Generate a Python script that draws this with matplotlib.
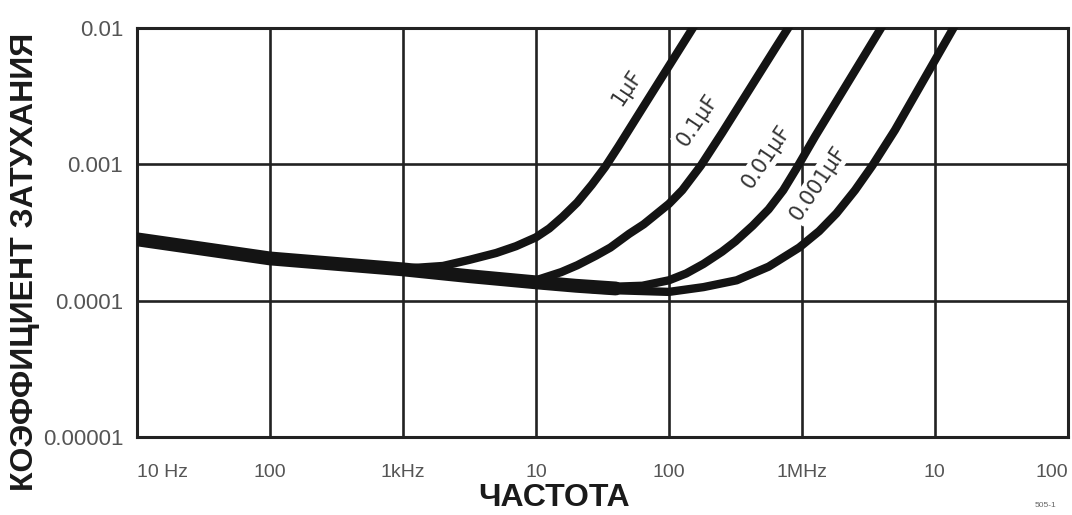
import matplotlib
matplotlib.use("Agg")
import matplotlib.pyplot as plt
import numpy as np

plt.rcParams['font.family'] = ['Liberation Sans', 'DejaVu Sans']

# values as log10(frequency in Hz) and log10(dissipation factor)
base_lf = [1.0, 1.5, 2.0, 2.5, 3.0, 3.5, 4.0, 4.3, 4.6]
base_ld = [-3.55, -3.62, -3.69, -3.73, -3.77, -3.82, -3.865, -3.89, -3.91]

lf_1uF = [1.0, 1.5, 2.0, 2.5, 3.0, 3.3, 3.5, 3.7, 3.85, 4.0, 4.1, 4.2, 4.31, 4.42, 4.52, 4.62, 4.8, 5.0, 5.2, 5.3]
ld_1uF = [-3.55, -3.62, -3.69, -3.73, -3.765, -3.745, -3.70, -3.65, -3.60, -3.535, -3.47, -3.385, -3.28, -3.15, -3.02, -2.87, -2.59, -2.28, -1.97, -1.81]

lf_01uF = [1.0, 2.0, 3.0, 3.5, 4.0, 4.19, 4.31, 4.45, 4.56, 4.7, 4.81, 5.0, 5.1, 5.24, 5.4, 5.6, 5.8, 5.95]
ld_01uF = [-3.55, -3.69, -3.77, -3.82, -3.85, -3.79, -3.74, -3.67, -3.61, -3.51, -3.44, -3.29, -3.19, -3.01, -2.77, -2.46, -2.15, -1.92]

lf_001uF = [1.0, 2.0, 3.0, 4.0, 4.5, 4.8, 5.0, 5.13, 5.26, 5.4, 5.5, 5.63, 5.75, 5.86, 5.96, 6.1, 6.3, 6.5, 6.6, 6.7]
ld_001uF = [-3.55, -3.69, -3.77, -3.87, -3.90, -3.89, -3.85, -3.80, -3.73, -3.64, -3.565, -3.45, -3.33, -3.19, -3.03, -2.795, -2.475, -2.155, -1.995, -1.835]

lf_0001uF = [1.0, 2.0, 3.0, 4.0, 4.5, 5.0, 5.26, 5.51, 5.75, 5.98, 6.13, 6.26, 6.4, 6.53, 6.7, 6.9, 7.1, 7.2]
ld_0001uF = [-3.55, -3.69, -3.77, -3.88, -3.92, -3.935, -3.90, -3.85, -3.75, -3.61, -3.49, -3.36, -3.19, -3.01, -2.75, -2.41, -2.07, -1.90]

cap_labels = ['1μF', '0.1μF', '0.01μF', '0.001μF']
curves_lf = [lf_1uF, lf_01uF, lf_001uF, lf_0001uF]
curves_ld = [ld_1uF, ld_01uF, ld_001uF, ld_0001uF]
lab_lf = [4.685, 5.215, 5.734, 6.123]
lab_ld = [-2.44, -2.675, -2.946, -3.137]

x_ticks = [10, 100, 1e3, 1e4, 1e5, 1e6, 1e7, 1e8]
x_ticklabels = ['10 Hz', '100', '1kHz', '10', '100', '1MHz', '10', '100']
y_ticks = [1e-5, 1e-4, 1e-3, 1e-2]
y_ticklabels = ['0.00001', '0.0001', '0.001', '0.01']

fig = plt.figure(figsize=(10.72, 5.15), dpi=100)
ax = fig.add_axes([0.128, 0.151, 0.868, 0.795])
ax.set_xscale('log')
ax.set_yscale('log')
ax.set_xlim(10, 1e8)
ax.set_ylim(1e-5, 1e-2)

ax.grid(True, which='major', color='#222222', lw=1.9)
ax.minorticks_off()
for s in ax.spines.values():
    s.set_linewidth(2.2)
    s.set_color('#222222')

ink = '#141414'
ax.plot(np.power(10.0, base_lf), np.power(10.0, base_ld), color=ink, lw=10,
        solid_capstyle='round', zorder=4)
for lf, ld in zip(curves_lf, curves_ld):
    ax.plot(np.power(10.0, lf), np.power(10.0, ld), color=ink, lw=6,
            solid_capstyle='round', solid_joinstyle='round', zorder=4)

for t, lf, ld in zip(cap_labels, lab_lf, lab_ld):
    ax.text(10 ** lf, 10 ** ld, t, rotation=56, ha='center', va='center',
            fontsize=15, color='#333333', family='DejaVu Sans', zorder=3,
            bbox=dict(facecolor='white', edgecolor='none', pad=1.5))

ax.set_xticks(x_ticks)
ax.set_xticklabels(x_ticklabels, fontsize=14, color='#555555')
ax.set_yticks(y_ticks)
ax.set_yticklabels(y_ticklabels, fontsize=16, color='#555555')
ax.tick_params(axis='x', length=0, pad=19)
ax.tick_params(axis='y', length=0, pad=10)
xl = ax.get_xticklabels()
xl[0].set_ha('left')
xl[-1].set_ha('right')

fig.text(0.517, 0.004, 'ЧАСТОТА', fontsize=23, fontweight='bold',
         ha='center', va='bottom', color='#1a1a1a')
fig.text(0.023, 0.491, 'КОЭФФИЦИЕНТ ЗАТУХАНИЯ', fontsize=23, fontweight='bold',
         rotation=90, ha='center', va='center', color='#1a1a1a')
fig.text(0.975, 0.015, '505-1', fontsize=6, color='#666666', ha='center')

fig.savefig('out.png', dpi=100)
